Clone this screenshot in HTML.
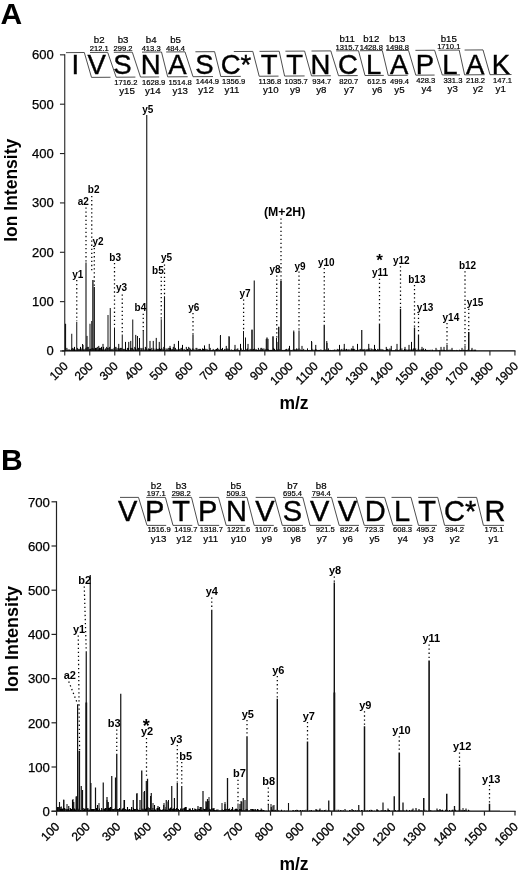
<!DOCTYPE html>
<html><head><meta charset="utf-8"><title>Figure</title>
<style>
html,body{margin:0;padding:0;background:#fff;width:520px;height:874px;overflow:hidden;}
svg{display:block;}
svg text{font-family:"Liberation Sans",Arial,Helvetica,sans-serif;fill:#000;}
</style></head><body>
<svg width="520" height="874" viewBox="0 0 520 874" style="filter:grayscale(1)">
<rect width="520" height="874" fill="#fff"/>
<text x="0.50" y="24.00" font-size="30" font-weight="bold">A</text>
<text x="1.00" y="469.50" font-size="30" font-weight="bold">B</text>
<line x1="64.75" y1="54.34" x2="64.75" y2="351.40" stroke="#222" stroke-width="1.1"/>
<line x1="61.75" y1="350.90" x2="515.50" y2="350.90" stroke="#000" stroke-width="1.15"/>
<line x1="59.95" y1="351.00" x2="64.75" y2="351.00" stroke="#222" stroke-width="1.1"/>
<text x="53.80" y="355.30" font-size="13" text-anchor="end" stroke="#000" stroke-width="0.25">0</text>
<line x1="59.95" y1="301.64" x2="64.75" y2="301.64" stroke="#222" stroke-width="1.1"/>
<text x="53.80" y="305.94" font-size="13" text-anchor="end" stroke="#000" stroke-width="0.25">100</text>
<line x1="59.95" y1="252.28" x2="64.75" y2="252.28" stroke="#222" stroke-width="1.1"/>
<text x="53.80" y="256.58" font-size="13" text-anchor="end" stroke="#000" stroke-width="0.25">200</text>
<line x1="59.95" y1="202.92" x2="64.75" y2="202.92" stroke="#222" stroke-width="1.1"/>
<text x="53.80" y="207.22" font-size="13" text-anchor="end" stroke="#000" stroke-width="0.25">300</text>
<line x1="59.95" y1="153.56" x2="64.75" y2="153.56" stroke="#222" stroke-width="1.1"/>
<text x="53.80" y="157.86" font-size="13" text-anchor="end" stroke="#000" stroke-width="0.25">400</text>
<line x1="59.95" y1="104.20" x2="64.75" y2="104.20" stroke="#222" stroke-width="1.1"/>
<text x="53.80" y="108.50" font-size="13" text-anchor="end" stroke="#000" stroke-width="0.25">500</text>
<line x1="59.95" y1="54.84" x2="64.75" y2="54.84" stroke="#222" stroke-width="1.1"/>
<text x="53.80" y="59.14" font-size="13" text-anchor="end" stroke="#000" stroke-width="0.25">600</text>
<line x1="64.75" y1="350.90" x2="64.75" y2="355.40" stroke="#222" stroke-width="1.1"/>
<text x="68.75" y="366.90" font-size="12.0" text-anchor="end" stroke="#000" stroke-width="0.3" transform="rotate(-45 68.75 366.90)">100</text>
<line x1="89.76" y1="350.90" x2="89.76" y2="355.40" stroke="#222" stroke-width="1.1"/>
<text x="93.76" y="366.90" font-size="12.0" text-anchor="end" stroke="#000" stroke-width="0.3" transform="rotate(-45 93.76 366.90)">200</text>
<line x1="114.77" y1="350.90" x2="114.77" y2="355.40" stroke="#222" stroke-width="1.1"/>
<text x="118.77" y="366.90" font-size="12.0" text-anchor="end" stroke="#000" stroke-width="0.3" transform="rotate(-45 118.77 366.90)">300</text>
<line x1="139.78" y1="350.90" x2="139.78" y2="355.40" stroke="#222" stroke-width="1.1"/>
<text x="143.78" y="366.90" font-size="12.0" text-anchor="end" stroke="#000" stroke-width="0.3" transform="rotate(-45 143.78 366.90)">400</text>
<line x1="164.79" y1="350.90" x2="164.79" y2="355.40" stroke="#222" stroke-width="1.1"/>
<text x="168.79" y="366.90" font-size="12.0" text-anchor="end" stroke="#000" stroke-width="0.3" transform="rotate(-45 168.79 366.90)">500</text>
<line x1="189.80" y1="350.90" x2="189.80" y2="355.40" stroke="#222" stroke-width="1.1"/>
<text x="193.80" y="366.90" font-size="12.0" text-anchor="end" stroke="#000" stroke-width="0.3" transform="rotate(-45 193.80 366.90)">600</text>
<line x1="214.81" y1="350.90" x2="214.81" y2="355.40" stroke="#222" stroke-width="1.1"/>
<text x="218.81" y="366.90" font-size="12.0" text-anchor="end" stroke="#000" stroke-width="0.3" transform="rotate(-45 218.81 366.90)">700</text>
<line x1="239.82" y1="350.90" x2="239.82" y2="355.40" stroke="#222" stroke-width="1.1"/>
<text x="243.82" y="366.90" font-size="12.0" text-anchor="end" stroke="#000" stroke-width="0.3" transform="rotate(-45 243.82 366.90)">800</text>
<line x1="264.83" y1="350.90" x2="264.83" y2="355.40" stroke="#222" stroke-width="1.1"/>
<text x="268.83" y="366.90" font-size="12.0" text-anchor="end" stroke="#000" stroke-width="0.3" transform="rotate(-45 268.83 366.90)">900</text>
<line x1="289.84" y1="350.90" x2="289.84" y2="355.40" stroke="#222" stroke-width="1.1"/>
<text x="293.84" y="366.90" font-size="12.0" text-anchor="end" stroke="#000" stroke-width="0.3" transform="rotate(-45 293.84 366.90)">1000</text>
<line x1="314.85" y1="350.90" x2="314.85" y2="355.40" stroke="#222" stroke-width="1.1"/>
<text x="318.85" y="366.90" font-size="12.0" text-anchor="end" stroke="#000" stroke-width="0.3" transform="rotate(-45 318.85 366.90)">1100</text>
<line x1="339.86" y1="350.90" x2="339.86" y2="355.40" stroke="#222" stroke-width="1.1"/>
<text x="343.86" y="366.90" font-size="12.0" text-anchor="end" stroke="#000" stroke-width="0.3" transform="rotate(-45 343.86 366.90)">1200</text>
<line x1="364.87" y1="350.90" x2="364.87" y2="355.40" stroke="#222" stroke-width="1.1"/>
<text x="368.87" y="366.90" font-size="12.0" text-anchor="end" stroke="#000" stroke-width="0.3" transform="rotate(-45 368.87 366.90)">1300</text>
<line x1="389.88" y1="350.90" x2="389.88" y2="355.40" stroke="#222" stroke-width="1.1"/>
<text x="393.88" y="366.90" font-size="12.0" text-anchor="end" stroke="#000" stroke-width="0.3" transform="rotate(-45 393.88 366.90)">1400</text>
<line x1="414.89" y1="350.90" x2="414.89" y2="355.40" stroke="#222" stroke-width="1.1"/>
<text x="418.89" y="366.90" font-size="12.0" text-anchor="end" stroke="#000" stroke-width="0.3" transform="rotate(-45 418.89 366.90)">1500</text>
<line x1="439.90" y1="350.90" x2="439.90" y2="355.40" stroke="#222" stroke-width="1.1"/>
<text x="443.90" y="366.90" font-size="12.0" text-anchor="end" stroke="#000" stroke-width="0.3" transform="rotate(-45 443.90 366.90)">1600</text>
<line x1="464.91" y1="350.90" x2="464.91" y2="355.40" stroke="#222" stroke-width="1.1"/>
<text x="468.91" y="366.90" font-size="12.0" text-anchor="end" stroke="#000" stroke-width="0.3" transform="rotate(-45 468.91 366.90)">1700</text>
<line x1="489.92" y1="350.90" x2="489.92" y2="355.40" stroke="#222" stroke-width="1.1"/>
<text x="493.92" y="366.90" font-size="12.0" text-anchor="end" stroke="#000" stroke-width="0.3" transform="rotate(-45 493.92 366.90)">1800</text>
<line x1="514.93" y1="350.90" x2="514.93" y2="355.40" stroke="#222" stroke-width="1.1"/>
<text x="518.93" y="366.90" font-size="12.0" text-anchor="end" stroke="#000" stroke-width="0.3" transform="rotate(-45 518.93 366.90)">1900</text>
<text x="294.00" y="408.60" font-size="17.5" font-weight="bold" text-anchor="middle">m/z</text>
<text font-size="17.5" font-weight="bold" text-anchor="middle" transform="translate(17.3 190.3) rotate(-90)">Ion Intensity</text>
<text x="71.58" y="73.70" font-size="27.5" stroke="#000" stroke-width="0.4">I</text>
<text x="87.43" y="73.70" font-size="27.5" stroke="#000" stroke-width="0.4">V</text>
<text x="113.14" y="73.70" font-size="27.5" stroke="#000" stroke-width="0.4">S</text>
<text x="140.86" y="73.70" font-size="27.5" stroke="#000" stroke-width="0.4">N</text>
<text x="168.13" y="73.70" font-size="27.5" stroke="#000" stroke-width="0.4">A</text>
<text x="195.14" y="73.70" font-size="27.5" stroke="#000" stroke-width="0.4">S</text>
<text x="220.70" y="73.70" font-size="27.5" stroke="#000" stroke-width="0.4">C*</text>
<text x="260.81" y="73.70" font-size="27.5" stroke="#000" stroke-width="0.4">T</text>
<text x="286.21" y="73.70" font-size="27.5" stroke="#000" stroke-width="0.4">T</text>
<text x="310.46" y="73.70" font-size="27.5" stroke="#000" stroke-width="0.4">N</text>
<text x="338.00" y="73.70" font-size="27.5" stroke="#000" stroke-width="0.4">C</text>
<text x="365.88" y="73.70" font-size="27.5" stroke="#000" stroke-width="0.4">L</text>
<text x="389.93" y="73.70" font-size="27.5" stroke="#000" stroke-width="0.4">A</text>
<text x="415.63" y="73.70" font-size="27.5" stroke="#000" stroke-width="0.4">P</text>
<text x="442.28" y="73.70" font-size="27.5" stroke="#000" stroke-width="0.4">L</text>
<text x="466.03" y="73.70" font-size="27.5" stroke="#000" stroke-width="0.4">A</text>
<text x="491.66" y="73.70" font-size="27.5" stroke="#000" stroke-width="0.4">K</text>
<path d="M66.00 52.63 L84.30 52.51 L91.50 77.39 L110.50 77.26" fill="none" stroke="#3a3a3a" stroke-width="0.9"/>
<path d="M90.00 52.47 L107.70 52.35 L116.20 77.22 L135.40 77.09" fill="none" stroke="#3a3a3a" stroke-width="0.9"/>
<path d="M113.80 52.32 L132.30 52.20 L140.50 77.06 L159.20 76.93" fill="none" stroke="#3a3a3a" stroke-width="0.9"/>
<path d="M142.00 52.13 L161.50 52.01 L167.70 76.87 L187.70 76.74" fill="none" stroke="#3a3a3a" stroke-width="0.9"/>
<path d="M166.20 51.97 L185.00 51.85 L193.00 76.70 L213.00 76.56" fill="none" stroke="#3a3a3a" stroke-width="0.9"/>
<path d="M195.40 51.78 L214.60 51.66 L220.80 76.51 L240.80 76.37" fill="none" stroke="#3a3a3a" stroke-width="0.9"/>
<path d="M233.80 51.54 L252.80 51.41 L259.20 76.25 L278.50 76.12" fill="none" stroke="#3a3a3a" stroke-width="0.9"/>
<path d="M259.50 51.37 L279.20 51.24 L284.60 76.08 L304.60 75.94" fill="none" stroke="#3a3a3a" stroke-width="0.9"/>
<path d="M285.40 51.20 L304.60 51.08 L311.50 75.89 L330.80 75.76" fill="none" stroke="#3a3a3a" stroke-width="0.9"/>
<path d="M311.50 51.03 L330.80 50.90 L338.50 75.71 L357.70 75.58" fill="none" stroke="#3a3a3a" stroke-width="0.9"/>
<path d="M336.20 50.87 L358.50 50.72 L365.00 75.53 L383.80 75.40" fill="none" stroke="#3a3a3a" stroke-width="0.9"/>
<path d="M360.00 50.72 L382.30 50.57 L388.20 75.37 L407.70 75.24" fill="none" stroke="#3a3a3a" stroke-width="0.9"/>
<path d="M386.20 50.54 L408.50 50.40 L415.80 75.18 L434.60 75.06" fill="none" stroke="#3a3a3a" stroke-width="0.9"/>
<path d="M415.40 50.35 L434.60 50.23 L442.30 75.00 L460.00 74.88" fill="none" stroke="#3a3a3a" stroke-width="0.9"/>
<path d="M438.50 50.20 L459.20 50.07 L464.60 74.85 L484.60 74.72" fill="none" stroke="#3a3a3a" stroke-width="0.9"/>
<path d="M464.60 50.04 L483.00 49.92 L490.00 74.68 L511.50 74.53" fill="none" stroke="#3a3a3a" stroke-width="0.9"/>
<text x="99.25" y="43.47" font-size="9.7" text-anchor="middle" stroke="#000" stroke-width="0.2">b2</text>
<text x="99.25" y="50.87" font-size="7.6" text-anchor="middle" stroke="#000" stroke-width="0.2">212.1</text>
<text x="123.05" y="43.36" font-size="9.7" text-anchor="middle" stroke="#000" stroke-width="0.2">b3</text>
<text x="123.05" y="50.76" font-size="7.6" text-anchor="middle" stroke="#000" stroke-width="0.2">299.2</text>
<text x="151.15" y="43.23" font-size="9.7" text-anchor="middle" stroke="#000" stroke-width="0.2">b4</text>
<text x="151.15" y="50.63" font-size="7.6" text-anchor="middle" stroke="#000" stroke-width="0.2">413.3</text>
<text x="175.60" y="43.12" font-size="9.7" text-anchor="middle" stroke="#000" stroke-width="0.2">b5</text>
<text x="175.60" y="50.52" font-size="7.6" text-anchor="middle" stroke="#000" stroke-width="0.2">484.4</text>
<text x="347.15" y="42.35" font-size="9.7" text-anchor="middle" stroke="#000" stroke-width="0.2">b11</text>
<text x="347.15" y="49.75" font-size="7.6" text-anchor="middle" stroke="#000" stroke-width="0.2">1315.7</text>
<text x="371.30" y="42.24" font-size="9.7" text-anchor="middle" stroke="#000" stroke-width="0.2">b12</text>
<text x="371.30" y="49.64" font-size="7.6" text-anchor="middle" stroke="#000" stroke-width="0.2">1428.8</text>
<text x="397.35" y="42.13" font-size="9.7" text-anchor="middle" stroke="#000" stroke-width="0.2">b13</text>
<text x="397.35" y="49.53" font-size="7.6" text-anchor="middle" stroke="#000" stroke-width="0.2">1498.8</text>
<text x="448.75" y="41.90" font-size="9.7" text-anchor="middle" stroke="#000" stroke-width="0.2">b15</text>
<text x="448.75" y="49.30" font-size="7.6" text-anchor="middle" stroke="#000" stroke-width="0.2">1710.1</text>
<text x="114.20" y="84.80" font-size="7.6" stroke="#000" stroke-width="0.2">1716.2</text>
<text x="127.00" y="93.74" font-size="9.7" text-anchor="middle" stroke="#000" stroke-width="0.2">y15</text>
<text x="142.00" y="84.68" font-size="7.6" stroke="#000" stroke-width="0.2">1628.9</text>
<text x="152.80" y="93.63" font-size="9.7" text-anchor="middle" stroke="#000" stroke-width="0.2">y14</text>
<text x="168.50" y="84.56" font-size="7.6" stroke="#000" stroke-width="0.2">1514.8</text>
<text x="180.20" y="93.50" font-size="9.7" text-anchor="middle" stroke="#000" stroke-width="0.2">y13</text>
<text x="195.80" y="84.43" font-size="7.6" stroke="#000" stroke-width="0.2">1444.9</text>
<text x="206.00" y="93.39" font-size="9.7" text-anchor="middle" stroke="#000" stroke-width="0.2">y12</text>
<text x="222.00" y="84.32" font-size="7.6" stroke="#000" stroke-width="0.2">1356.9</text>
<text x="232.00" y="93.27" font-size="9.7" text-anchor="middle" stroke="#000" stroke-width="0.2">y11</text>
<text x="258.50" y="84.15" font-size="7.6" stroke="#000" stroke-width="0.2">1136.8</text>
<text x="270.80" y="93.10" font-size="9.7" text-anchor="middle" stroke="#000" stroke-width="0.2">y10</text>
<text x="284.60" y="84.03" font-size="7.6" stroke="#000" stroke-width="0.2">1035.7</text>
<text x="295.20" y="92.99" font-size="9.7" text-anchor="middle" stroke="#000" stroke-width="0.2">y9</text>
<text x="312.30" y="83.91" font-size="7.6" stroke="#000" stroke-width="0.2">934.7</text>
<text x="321.30" y="92.87" font-size="9.7" text-anchor="middle" stroke="#000" stroke-width="0.2">y8</text>
<text x="339.20" y="83.79" font-size="7.6" stroke="#000" stroke-width="0.2">820.7</text>
<text x="349.20" y="92.74" font-size="9.7" text-anchor="middle" stroke="#000" stroke-width="0.2">y7</text>
<text x="367.20" y="83.66" font-size="7.6" stroke="#000" stroke-width="0.2">612.5</text>
<text x="377.30" y="92.62" font-size="9.7" text-anchor="middle" stroke="#000" stroke-width="0.2">y6</text>
<text x="390.00" y="83.56" font-size="7.6" stroke="#000" stroke-width="0.2">499.4</text>
<text x="399.40" y="92.52" font-size="9.7" text-anchor="middle" stroke="#000" stroke-width="0.2">y5</text>
<text x="416.20" y="83.44" font-size="7.6" stroke="#000" stroke-width="0.2">428.3</text>
<text x="426.50" y="92.40" font-size="9.7" text-anchor="middle" stroke="#000" stroke-width="0.2">y4</text>
<text x="443.40" y="83.32" font-size="7.6" stroke="#000" stroke-width="0.2">331.3</text>
<text x="452.70" y="92.28" font-size="9.7" text-anchor="middle" stroke="#000" stroke-width="0.2">y3</text>
<text x="466.00" y="83.22" font-size="7.6" stroke="#000" stroke-width="0.2">218.2</text>
<text x="478.00" y="92.16" font-size="9.7" text-anchor="middle" stroke="#000" stroke-width="0.2">y2</text>
<text x="493.00" y="83.10" font-size="7.6" stroke="#000" stroke-width="0.2">147.1</text>
<text x="500.70" y="92.06" font-size="9.7" text-anchor="middle" stroke="#000" stroke-width="0.2">y1</text>
<path d="M65.6 350.9v-3M66.9 350.9v-3M68.0 350.9v-1.5M69.2 350.9v-1.5M70.2 350.9v-1M71.4 350.9v-2M72.3 350.9v-3M73.3 350.9v-2M74.1 350.9v-3M75.0 350.9v-1.5M76.2 350.9v-1M77.3 350.9v-3M78.1 350.9v-2M79.0 350.9v-2M79.9 350.9v-2M81.0 350.9v-2.5M82.1 350.9v-2M82.9 350.9v-2M83.9 350.9v-1.5M85.0 350.9v-2M86.0 350.9v-3M87.2 350.9v-4M88.3 350.9v-4M89.3 350.9v-2M90.5 350.9v-2M91.3 350.9v-2.5M92.4 350.9v-3M93.6 350.9v-2.5M94.7 350.9v-1.5M95.5 350.9v-3M96.4 350.9v-3M97.3 350.9v-4M98.3 350.9v-1.5M99.5 350.9v-3M100.4 350.9v-3M101.5 350.9v-4M102.4 350.9v-1.5M103.6 350.9v-4M104.8 350.9v-1.5M105.6 350.9v-2.5M106.7 350.9v-4M107.7 350.9v-3M108.9 350.9v-3M109.7 350.9v-4M110.7 350.9v-1.5M111.8 350.9v-2M112.9 350.9v-2M114.1 350.9v-3M115.1 350.9v-4M116.0 350.9v-4M117.0 350.9v-2.5M118.2 350.9v-3M119.4 350.9v-2.5M120.6 350.9v-3M121.7 350.9v-3M123.0 350.9v-2M123.8 350.9v-2M124.8 350.9v-2M125.6 350.9v-2M126.5 350.9v-1M127.4 350.9v-3M128.5 350.9v-3M129.8 350.9v-1M130.8 350.9v-3M131.8 350.9v-3M132.6 350.9v-3M133.5 350.9v-1.5M134.8 350.9v-4M135.6 350.9v-3M136.7 350.9v-1.5M137.5 350.9v-2M138.6 350.9v-3M139.7 350.9v-1.5M140.9 350.9v-3M141.8 350.9v-2.5M143.1 350.9v-3M144.1 350.9v-1.5M145.4 350.9v-4M146.4 350.9v-2.5M147.2 350.9v-1.5M148.4 350.9v-2.5M149.5 350.9v-2M150.5 350.9v-2M151.8 350.9v-3M152.7 350.9v-1M153.8 350.9v-2.5M155.1 350.9v-1.5M156.3 350.9v-2.5M157.3 350.9v-2M158.3 350.9v-2M159.4 350.9v-3M160.5 350.9v-2M161.7 350.9v-3M162.9 350.9v-2M163.8 350.9v-4M164.8 350.9v-1M166.0 350.9v-2.5M167.1 350.9v-2M168.2 350.9v-3M169.3 350.9v-3M170.5 350.9v-3M171.4 350.9v-1.5M172.3 350.9v-2M173.3 350.9v-4M174.4 350.9v-1M175.4 350.9v-3M176.6 350.9v-1.5M177.8 350.9v-1.5M179.1 350.9v-2M180.1 350.9v-2M181.1 350.9v-3M182.0 350.9v-3M183.0 350.9v-1.5M184.2 350.9v-2M185.5 350.9v-1M186.3 350.9v-4M187.5 350.9v-2M188.7 350.9v-4M189.8 350.9v-3M190.7 350.9v-2M191.5 350.9v-1M192.7 350.9v-2.5M193.9 350.9v-2M195.0 350.9v-1M196.0 350.9v-3M196.9 350.9v-3M197.8 350.9v-1.5M198.8 350.9v-2M199.7 350.9v-2M200.6 350.9v-2M201.6 350.9v-1M202.5 350.9v-2.5M203.5 350.9v-2M204.6 350.9v-3M205.8 350.9v-2M207.0 350.9v-2M207.9 350.9v-1M209.0 350.9v-1M210.2 350.9v-3M211.1 350.9v-1M212.3 350.9v-1M213.2 350.9v-2M214.3 350.9v-1M215.4 350.9v-1.5M216.5 350.9v-2M217.6 350.9v-3M218.8 350.9v-2M219.6 350.9v-1M220.5 350.9v-3M221.4 350.9v-2M222.5 350.9v-3M223.7 350.9v-1M224.7 350.9v-2M226.0 350.9v-2M227.1 350.9v-2.5M228.0 350.9v-2M229.1 350.9v-2M230.1 350.9v-1M231.3 350.9v-1.5M232.6 350.9v-1M233.8 350.9v-1M234.8 350.9v-2M235.8 350.9v-1M236.9 350.9v-2M237.8 350.9v-2.5M238.7 350.9v-1M240.0 350.9v-1M241.2 350.9v-2.5M242.4 350.9v-1M243.3 350.9v-1M244.6 350.9v-1M245.8 350.9v-1M246.8 350.9v-2M247.6 350.9v-2.5M248.9 350.9v-1M250.0 350.9v-2M251.0 350.9v-2M251.9 350.9v-1.5M252.8 350.9v-1.5M253.6 350.9v-2M254.6 350.9v-2.5M255.4 350.9v-1.5M256.5 350.9v-1.5M257.5 350.9v-1M258.4 350.9v-3M259.3 350.9v-1M260.1 350.9v-1.5M260.9 350.9v-3M261.8 350.9v-3M262.7 350.9v-2M263.9 350.9v-2.5M265.1 350.9v-1.5M266.1 350.9v-2M267.4 350.9v-2M268.4 350.9v-1.5M269.3 350.9v-1M270.5 350.9v-1M271.5 350.9v-1M272.4 350.9v-1M273.6 350.9v-3M274.5 350.9v-2M275.7 350.9v-1M276.6 350.9v-1M277.7 350.9v-1.5M279.0 350.9v-2M280.2 350.9v-1.5M281.3 350.9v-1M282.4 350.9v-1M283.7 350.9v-1M284.6 350.9v-1M285.5 350.9v-1.5M286.6 350.9v-2M287.8 350.9v-1.5M288.8 350.9v-2.5M289.7 350.9v-1.5M290.9 350.9v-1M291.8 350.9v-0.8M293.1 350.9v-1.5M294.5 350.9v-1.5M295.6 350.9v-1.5M296.6 350.9v-2.5M297.8 350.9v-2M299.0 350.9v-2.5M300.3 350.9v-1.5M301.4 350.9v-1M302.7 350.9v-1M303.7 350.9v-2M305.0 350.9v-1M306.1 350.9v-1M307.5 350.9v-2.5M308.5 350.9v-0.8M309.7 350.9v-1M310.8 350.9v-0.8M311.7 350.9v-2.5M312.8 350.9v-1.5M314.1 350.9v-1M315.3 350.9v-2M316.3 350.9v-1.5M317.3 350.9v-1M318.4 350.9v-1M319.5 350.9v-1M320.9 350.9v-1.5M322.0 350.9v-0.8M323.3 350.9v-1M324.3 350.9v-1M325.2 350.9v-1.5M326.2 350.9v-1M327.3 350.9v-1M328.4 350.9v-2.5M329.3 350.9v-1M330.6 350.9v-1M331.7 350.9v-0.8M332.8 350.9v-1M333.8 350.9v-1M334.8 350.9v-1.5M336.1 350.9v-1M337.3 350.9v-2M338.6 350.9v-1.5M339.7 350.9v-1M341.0 350.9v-1.5M341.9 350.9v-2M343.2 350.9v-1M344.1 350.9v-2.5M345.3 350.9v-1.5M346.5 350.9v-2M347.8 350.9v-1.5M348.8 350.9v-1.5M350.0 350.9v-1.5M351.4 350.9v-2.5M352.3 350.9v-2M353.5 350.9v-2M354.7 350.9v-2M355.9 350.9v-0.8M356.8 350.9v-1M358.1 350.9v-0.8M359.1 350.9v-1.5M360.3 350.9v-2M361.2 350.9v-1.5M362.5 350.9v-1.5M363.5 350.9v-1.5M364.8 350.9v-2M366.2 350.9v-1.5M367.1 350.9v-1.5M368.0 350.9v-2M369.2 350.9v-2.5M370.1 350.9v-1M371.1 350.9v-2.5M372.1 350.9v-2M373.4 350.9v-1.5M374.5 350.9v-1.5M375.5 350.9v-2M376.5 350.9v-0.8M377.7 350.9v-2M378.7 350.9v-1.5M379.7 350.9v-1M380.9 350.9v-2M382.0 350.9v-1.5M382.9 350.9v-1.5M383.9 350.9v-1M385.2 350.9v-0.8M386.5 350.9v-2M387.6 350.9v-2M388.8 350.9v-1.5M389.9 350.9v-2.5M390.9 350.9v-1.5M391.9 350.9v-0.8M393.2 350.9v-0.8M394.3 350.9v-0.8M395.6 350.9v-1.5M397.0 350.9v-1.5M398.0 350.9v-1M398.9 350.9v-0.8M399.9 350.9v-1.5M400.9 350.9v-1M401.9 350.9v-2.5M403.1 350.9v-1M404.5 350.9v-2M405.6 350.9v-1.5M406.9 350.9v-1.5M408.0 350.9v-1M408.9 350.9v-1.5M410.1 350.9v-1.5M411.2 350.9v-1M412.3 350.9v-1.5M413.4 350.9v-2.5M414.4 350.9v-1M415.7 350.9v-2.5M416.8 350.9v-1M418.1 350.9v-2M419.1 350.9v-1M420.0 350.9v-1.5M421.4 350.9v-1.5M422.4 350.9v-1.5M423.6 350.9v-2.5M424.6 350.9v-0.8M425.5 350.9v-2M426.5 350.9v-1M427.6 350.9v-1M428.7 350.9v-1M429.7 350.9v-1M431.0 350.9v-1.2M432.5 350.9v-1.2M434.0 350.9v-0.8M435.5 350.9v-0.5M437.0 350.9v-1.2M438.3 350.9v-0.8M439.7 350.9v-1M441.0 350.9v-0.8M442.1 350.9v-1.2M443.3 350.9v-1M444.5 350.9v-1M445.7 350.9v-0.8M446.9 350.9v-1.2M447.9 350.9v-0.8M449.0 350.9v-1.2M450.3 350.9v-1.2M451.9 350.9v-1.2M453.1 350.9v-0.8M454.3 350.9v-0.8M455.5 350.9v-0.5M456.7 350.9v-1M457.8 350.9v-0.8M459.4 350.9v-1.2M460.6 350.9v-0.8M461.8 350.9v-1M463.3 350.9v-1.2M464.4 350.9v-1M465.5 350.9v-0.8M466.6 350.9v-0.8M467.8 350.9v-1.2M469.0 350.9v-1M470.6 350.9v-0.5M471.6 350.9v-1.2M473.1 350.9v-1.2M474.6 350.9v-1.2M475.6 350.9v-1.2M74.50 350.9v-4M80.50 350.9v-4M83.00 350.9v-6M87.00 350.9v-15M98.75 350.9v-5M103.00 350.9v-7M118.75 350.9v-7M125.50 350.9v-9M128.75 350.9v-9M130.75 350.9v-10M135.75 350.9v-16M137.50 350.9v-14M139.50 350.9v-12M150.00 350.9v-10M153.25 350.9v-10M156.25 350.9v-13M159.25 350.9v-9M170.00 350.9v-5M174.25 350.9v-7M178.50 350.9v-10M182.50 350.9v-6M204.50 350.9v-5.5M209.25 350.9v-7M220.40 350.9v-15M226.25 350.9v-5M229.20 350.9v-14M235.00 350.9v-6M240.50 350.9v-7M245.50 350.9v-12M248.00 350.9v-7M252.00 350.9v-21M266.25 350.9v-12M268.00 350.9v-12M273.00 350.9v-14M277.00 350.9v-9M278.75 350.9v-24M289.50 350.9v-5M293.75 350.9v-19M302.00 350.9v-5M311.75 350.9v-9M315.75 350.9v-6M327.00 350.9v-8M339.50 350.9v-6M344.25 350.9v-7M353.00 350.9v-5M357.50 350.9v-7M368.75 350.9v-7M374.50 350.9v-6M386.25 350.9v-4M391.25 350.9v-5M397.00 350.9v-7M405.00 350.9v-4M409.00 350.9v-6M411.50 350.9v-9M422.00 350.9v-4M436.00 350.9v-3M441.00 350.9v-4M444.00 350.9v-4M452.00 350.9v-3M462.00 350.9v-3M472.00 350.9v-3" stroke="#000" stroke-width="1" fill="none"/>
<line x1="65.50" y1="323.75" x2="65.50" y2="350.90" stroke="#111" stroke-width="1.2"/>
<line x1="71.75" y1="333.75" x2="71.75" y2="350.90" stroke="#111" stroke-width="1"/>
<line x1="76.75" y1="321.75" x2="76.75" y2="350.90" stroke="#111" stroke-width="1"/>
<line x1="82.50" y1="344.00" x2="82.50" y2="350.90" stroke="#111" stroke-width="1"/>
<line x1="86.00" y1="262.50" x2="86.00" y2="350.90" stroke="#111" stroke-width="1.1"/>
<line x1="90.00" y1="323.75" x2="90.00" y2="350.90" stroke="#111" stroke-width="1"/>
<line x1="91.75" y1="321.00" x2="91.75" y2="350.90" stroke="#111" stroke-width="1"/>
<line x1="92.90" y1="280.00" x2="92.90" y2="350.90" stroke="#111" stroke-width="1.3"/>
<line x1="94.30" y1="287.00" x2="94.30" y2="350.90" stroke="#111" stroke-width="1.2"/>
<line x1="108.00" y1="315.00" x2="108.00" y2="350.90" stroke="#111" stroke-width="1"/>
<line x1="110.25" y1="308.00" x2="110.25" y2="350.90" stroke="#111" stroke-width="1"/>
<line x1="114.50" y1="327.50" x2="114.50" y2="350.90" stroke="#111" stroke-width="1"/>
<line x1="122.25" y1="334.50" x2="122.25" y2="350.90" stroke="#111" stroke-width="1"/>
<line x1="132.75" y1="319.50" x2="132.75" y2="350.90" stroke="#111" stroke-width="1"/>
<line x1="137.50" y1="336.00" x2="137.50" y2="350.90" stroke="#111" stroke-width="1"/>
<line x1="139.50" y1="338.00" x2="139.50" y2="350.90" stroke="#111" stroke-width="1"/>
<line x1="143.25" y1="331.00" x2="143.25" y2="350.90" stroke="#111" stroke-width="1"/>
<line x1="146.75" y1="115.00" x2="146.75" y2="350.90" stroke="#111" stroke-width="1.1"/>
<line x1="161.25" y1="319.25" x2="161.25" y2="350.90" stroke="#111" stroke-width="1"/>
<line x1="164.50" y1="296.25" x2="164.50" y2="350.90" stroke="#111" stroke-width="1.1"/>
<line x1="193.00" y1="334.25" x2="193.00" y2="350.90" stroke="#111" stroke-width="1.2"/>
<line x1="220.50" y1="335.00" x2="220.50" y2="350.90" stroke="#111" stroke-width="1"/>
<line x1="229.00" y1="336.00" x2="229.00" y2="350.90" stroke="#111" stroke-width="1"/>
<line x1="243.50" y1="331.00" x2="243.50" y2="350.90" stroke="#111" stroke-width="1"/>
<line x1="245.50" y1="337.50" x2="245.50" y2="350.90" stroke="#111" stroke-width="1"/>
<line x1="252.00" y1="329.50" x2="252.00" y2="350.90" stroke="#111" stroke-width="1"/>
<line x1="254.25" y1="280.50" x2="254.25" y2="350.90" stroke="#111" stroke-width="1.1"/>
<line x1="267.00" y1="337.50" x2="267.00" y2="350.90" stroke="#111" stroke-width="1.3"/>
<line x1="273.00" y1="336.00" x2="273.00" y2="350.90" stroke="#111" stroke-width="1"/>
<line x1="276.50" y1="338.00" x2="276.50" y2="350.90" stroke="#111" stroke-width="1"/>
<line x1="278.75" y1="326.75" x2="278.75" y2="350.90" stroke="#111" stroke-width="1"/>
<line x1="281.00" y1="280.50" x2="281.00" y2="350.90" stroke="#111" stroke-width="1.6"/>
<line x1="293.75" y1="330.50" x2="293.75" y2="350.90" stroke="#111" stroke-width="1"/>
<line x1="299.00" y1="330.50" x2="299.00" y2="350.90" stroke="#111" stroke-width="1.1"/>
<line x1="311.50" y1="341.00" x2="311.50" y2="350.90" stroke="#111" stroke-width="1"/>
<line x1="324.25" y1="325.00" x2="324.25" y2="350.90" stroke="#111" stroke-width="1.3"/>
<line x1="326.75" y1="341.00" x2="326.75" y2="350.90" stroke="#111" stroke-width="1"/>
<line x1="361.75" y1="330.00" x2="361.75" y2="350.90" stroke="#111" stroke-width="1.2"/>
<line x1="379.50" y1="323.75" x2="379.50" y2="350.90" stroke="#111" stroke-width="1.3"/>
<line x1="400.50" y1="308.75" x2="400.50" y2="350.90" stroke="#111" stroke-width="1.3"/>
<line x1="414.50" y1="327.50" x2="414.50" y2="350.90" stroke="#111" stroke-width="1.3"/>
<line x1="418.50" y1="334.50" x2="418.50" y2="350.90" stroke="#111" stroke-width="1.2"/>
<line x1="447.00" y1="344.50" x2="447.00" y2="350.90" stroke="#111" stroke-width="1.2"/>
<line x1="465.00" y1="346.00" x2="465.00" y2="350.90" stroke="#111" stroke-width="1"/>
<line x1="468.75" y1="332.00" x2="468.75" y2="350.90" stroke="#111" stroke-width="1.5"/>
<text x="77.75" y="277.50" font-size="10.0" font-weight="bold" text-anchor="middle">y1</text>
<line x1="76.75" y1="280.00" x2="76.75" y2="321.00" stroke="#000" stroke-width="1.25" stroke-dasharray="1.3 2.75"/>
<text x="83.38" y="204.50" font-size="10.0" font-weight="bold" text-anchor="middle">a2</text>
<line x1="86.00" y1="207.50" x2="86.00" y2="262.00" stroke="#000" stroke-width="1.25" stroke-dasharray="1.3 2.75"/>
<text x="93.65" y="192.50" font-size="10.0" font-weight="bold" text-anchor="middle">b2</text>
<line x1="91.75" y1="196.00" x2="91.75" y2="271.00" stroke="#000" stroke-width="1.25" stroke-dasharray="1.3 2.75"/>
<text x="98.12" y="244.50" font-size="10.0" font-weight="bold" text-anchor="middle">y2</text>
<line x1="94.30" y1="248.00" x2="94.30" y2="287.00" stroke="#000" stroke-width="1.25" stroke-dasharray="1.3 2.75"/>
<text x="115.12" y="260.50" font-size="10.0" font-weight="bold" text-anchor="middle">b3</text>
<line x1="114.50" y1="263.00" x2="114.50" y2="327.00" stroke="#000" stroke-width="1.25" stroke-dasharray="1.3 2.75"/>
<text x="121.62" y="291.25" font-size="10.0" font-weight="bold" text-anchor="middle">y3</text>
<line x1="122.25" y1="294.50" x2="122.25" y2="334.00" stroke="#000" stroke-width="1.25" stroke-dasharray="1.3 2.75"/>
<text x="140.38" y="310.75" font-size="10.0" font-weight="bold" text-anchor="middle">b4</text>
<line x1="143.25" y1="313.75" x2="143.25" y2="331.00" stroke="#000" stroke-width="1.25" stroke-dasharray="1.3 2.75"/>
<text x="147.75" y="112.50" font-size="10.0" font-weight="bold" text-anchor="middle">y5</text>
<text x="157.88" y="274.25" font-size="10.0" font-weight="bold" text-anchor="middle">b5</text>
<line x1="161.25" y1="276.75" x2="161.25" y2="319.00" stroke="#000" stroke-width="1.25" stroke-dasharray="1.3 2.75"/>
<text x="166.62" y="261.25" font-size="10.0" font-weight="bold" text-anchor="middle">y5</text>
<line x1="164.50" y1="264.50" x2="164.50" y2="296.00" stroke="#000" stroke-width="1.25" stroke-dasharray="1.3 2.75"/>
<text x="193.75" y="310.50" font-size="10.0" font-weight="bold" text-anchor="middle">y6</text>
<line x1="193.00" y1="313.00" x2="193.00" y2="334.00" stroke="#000" stroke-width="1.25" stroke-dasharray="1.3 2.75"/>
<text x="245.00" y="297.00" font-size="10.0" font-weight="bold" text-anchor="middle">y7</text>
<line x1="243.60" y1="299.50" x2="243.60" y2="331.00" stroke="#000" stroke-width="1.25" stroke-dasharray="1.3 2.75"/>
<text x="275.00" y="273.00" font-size="10.0" font-weight="bold" text-anchor="middle">y8</text>
<line x1="276.75" y1="275.50" x2="276.75" y2="338.00" stroke="#000" stroke-width="1.25" stroke-dasharray="1.3 2.75"/>
<text x="300.00" y="269.50" font-size="10.0" font-weight="bold" text-anchor="middle">y9</text>
<line x1="299.00" y1="271.50" x2="299.00" y2="330.00" stroke="#000" stroke-width="1.25" stroke-dasharray="1.3 2.75"/>
<text x="326.25" y="265.50" font-size="10.0" font-weight="bold" text-anchor="middle">y10</text>
<line x1="324.25" y1="268.00" x2="324.25" y2="325.00" stroke="#000" stroke-width="1.25" stroke-dasharray="1.3 2.75"/>
<text x="380.00" y="276.25" font-size="10.0" font-weight="bold" text-anchor="middle">y11</text>
<line x1="379.50" y1="278.75" x2="379.50" y2="323.50" stroke="#000" stroke-width="1.25" stroke-dasharray="1.3 2.75"/>
<text x="401.25" y="263.75" font-size="10.0" font-weight="bold" text-anchor="middle">y12</text>
<line x1="400.50" y1="266.25" x2="400.50" y2="308.50" stroke="#000" stroke-width="1.25" stroke-dasharray="1.3 2.75"/>
<text x="416.88" y="282.50" font-size="10.0" font-weight="bold" text-anchor="middle">b13</text>
<line x1="414.50" y1="285.00" x2="414.50" y2="327.00" stroke="#000" stroke-width="1.25" stroke-dasharray="1.3 2.75"/>
<text x="425.00" y="310.75" font-size="10.0" font-weight="bold" text-anchor="middle">y13</text>
<line x1="418.50" y1="313.75" x2="418.50" y2="334.00" stroke="#000" stroke-width="1.25" stroke-dasharray="1.3 2.75"/>
<text x="450.88" y="320.50" font-size="10.0" font-weight="bold" text-anchor="middle">y14</text>
<line x1="447.00" y1="323.00" x2="447.00" y2="344.00" stroke="#000" stroke-width="1.25" stroke-dasharray="1.3 2.75"/>
<text x="467.50" y="268.75" font-size="10.0" font-weight="bold" text-anchor="middle">b12</text>
<line x1="465.00" y1="271.25" x2="465.00" y2="346.00" stroke="#000" stroke-width="1.25" stroke-dasharray="1.3 2.75"/>
<text x="475.00" y="306.25" font-size="10.0" font-weight="bold" text-anchor="middle">y15</text>
<line x1="468.75" y1="308.75" x2="468.75" y2="332.00" stroke="#000" stroke-width="1.25" stroke-dasharray="1.3 2.75"/>
<text x="284.60" y="216.30" font-size="12.3" font-weight="bold" text-anchor="middle">(M+2H)</text>
<line x1="281" y1="218.5" x2="281" y2="280" stroke="#000" stroke-width="1.25" stroke-dasharray="1.3 2.75"/>
<text x="379.50" y="266.20" font-size="17" font-weight="bold" text-anchor="middle">*</text>
<line x1="56.50" y1="501.30" x2="56.50" y2="811.60" stroke="#222" stroke-width="1.2"/>
<line x1="51.50" y1="811.25" x2="515.60" y2="811.25" stroke="#000" stroke-width="1.1"/>
<line x1="51.50" y1="811.20" x2="56.50" y2="811.20" stroke="#222" stroke-width="1.2"/>
<text x="49.90" y="815.90" font-size="13.2" text-anchor="end" stroke="#000" stroke-width="0.25">0</text>
<line x1="51.50" y1="767.00" x2="56.50" y2="767.00" stroke="#222" stroke-width="1.2"/>
<text x="49.90" y="771.70" font-size="13.2" text-anchor="end" stroke="#000" stroke-width="0.25">100</text>
<line x1="51.50" y1="722.80" x2="56.50" y2="722.80" stroke="#222" stroke-width="1.2"/>
<text x="49.90" y="727.50" font-size="13.2" text-anchor="end" stroke="#000" stroke-width="0.25">200</text>
<line x1="51.50" y1="678.60" x2="56.50" y2="678.60" stroke="#222" stroke-width="1.2"/>
<text x="49.90" y="683.30" font-size="13.2" text-anchor="end" stroke="#000" stroke-width="0.25">300</text>
<line x1="51.50" y1="634.40" x2="56.50" y2="634.40" stroke="#222" stroke-width="1.2"/>
<text x="49.90" y="639.10" font-size="13.2" text-anchor="end" stroke="#000" stroke-width="0.25">400</text>
<line x1="51.50" y1="590.20" x2="56.50" y2="590.20" stroke="#222" stroke-width="1.2"/>
<text x="49.90" y="594.90" font-size="13.2" text-anchor="end" stroke="#000" stroke-width="0.25">500</text>
<line x1="51.50" y1="546.00" x2="56.50" y2="546.00" stroke="#222" stroke-width="1.2"/>
<text x="49.90" y="550.70" font-size="13.2" text-anchor="end" stroke="#000" stroke-width="0.25">600</text>
<line x1="51.50" y1="501.80" x2="56.50" y2="501.80" stroke="#222" stroke-width="1.2"/>
<text x="49.90" y="506.50" font-size="13.2" text-anchor="end" stroke="#000" stroke-width="0.25">700</text>
<line x1="56.60" y1="811.10" x2="56.60" y2="815.60" stroke="#222" stroke-width="1.2"/>
<text x="60.30" y="827.40" font-size="12.2" text-anchor="end" stroke="#000" stroke-width="0.3" transform="rotate(-45 60.30 827.40)">100</text>
<line x1="87.16" y1="811.10" x2="87.16" y2="815.60" stroke="#222" stroke-width="1.2"/>
<text x="90.86" y="827.40" font-size="12.2" text-anchor="end" stroke="#000" stroke-width="0.3" transform="rotate(-45 90.86 827.40)">200</text>
<line x1="117.72" y1="811.10" x2="117.72" y2="815.60" stroke="#222" stroke-width="1.2"/>
<text x="121.42" y="827.40" font-size="12.2" text-anchor="end" stroke="#000" stroke-width="0.3" transform="rotate(-45 121.42 827.40)">300</text>
<line x1="148.28" y1="811.10" x2="148.28" y2="815.60" stroke="#222" stroke-width="1.2"/>
<text x="151.98" y="827.40" font-size="12.2" text-anchor="end" stroke="#000" stroke-width="0.3" transform="rotate(-45 151.98 827.40)">400</text>
<line x1="178.84" y1="811.10" x2="178.84" y2="815.60" stroke="#222" stroke-width="1.2"/>
<text x="182.54" y="827.40" font-size="12.2" text-anchor="end" stroke="#000" stroke-width="0.3" transform="rotate(-45 182.54 827.40)">500</text>
<line x1="209.40" y1="811.10" x2="209.40" y2="815.60" stroke="#222" stroke-width="1.2"/>
<text x="213.10" y="827.40" font-size="12.2" text-anchor="end" stroke="#000" stroke-width="0.3" transform="rotate(-45 213.10 827.40)">600</text>
<line x1="239.96" y1="811.10" x2="239.96" y2="815.60" stroke="#222" stroke-width="1.2"/>
<text x="243.66" y="827.40" font-size="12.2" text-anchor="end" stroke="#000" stroke-width="0.3" transform="rotate(-45 243.66 827.40)">700</text>
<line x1="270.52" y1="811.10" x2="270.52" y2="815.60" stroke="#222" stroke-width="1.2"/>
<text x="274.22" y="827.40" font-size="12.2" text-anchor="end" stroke="#000" stroke-width="0.3" transform="rotate(-45 274.22 827.40)">800</text>
<line x1="301.08" y1="811.10" x2="301.08" y2="815.60" stroke="#222" stroke-width="1.2"/>
<text x="304.78" y="827.40" font-size="12.2" text-anchor="end" stroke="#000" stroke-width="0.3" transform="rotate(-45 304.78 827.40)">900</text>
<line x1="331.64" y1="811.10" x2="331.64" y2="815.60" stroke="#222" stroke-width="1.2"/>
<text x="335.34" y="827.40" font-size="12.2" text-anchor="end" stroke="#000" stroke-width="0.3" transform="rotate(-45 335.34 827.40)">1000</text>
<line x1="362.20" y1="811.10" x2="362.20" y2="815.60" stroke="#222" stroke-width="1.2"/>
<text x="365.90" y="827.40" font-size="12.2" text-anchor="end" stroke="#000" stroke-width="0.3" transform="rotate(-45 365.90 827.40)">1100</text>
<line x1="392.76" y1="811.10" x2="392.76" y2="815.60" stroke="#222" stroke-width="1.2"/>
<text x="396.46" y="827.40" font-size="12.2" text-anchor="end" stroke="#000" stroke-width="0.3" transform="rotate(-45 396.46 827.40)">1200</text>
<line x1="423.32" y1="811.10" x2="423.32" y2="815.60" stroke="#222" stroke-width="1.2"/>
<text x="427.02" y="827.40" font-size="12.2" text-anchor="end" stroke="#000" stroke-width="0.3" transform="rotate(-45 427.02 827.40)">1300</text>
<line x1="453.88" y1="811.10" x2="453.88" y2="815.60" stroke="#222" stroke-width="1.2"/>
<text x="457.58" y="827.40" font-size="12.2" text-anchor="end" stroke="#000" stroke-width="0.3" transform="rotate(-45 457.58 827.40)">1400</text>
<line x1="484.44" y1="811.10" x2="484.44" y2="815.60" stroke="#222" stroke-width="1.2"/>
<text x="488.14" y="827.40" font-size="12.2" text-anchor="end" stroke="#000" stroke-width="0.3" transform="rotate(-45 488.14 827.40)">1500</text>
<line x1="515.00" y1="811.10" x2="515.00" y2="815.60" stroke="#222" stroke-width="1.2"/>
<text x="518.70" y="827.40" font-size="12.2" text-anchor="end" stroke="#000" stroke-width="0.3" transform="rotate(-45 518.70 827.40)">1600</text>
<text x="294.00" y="870.20" font-size="17.5" font-weight="bold" text-anchor="middle">m/z</text>
<text font-size="18" font-weight="bold" text-anchor="middle" transform="translate(17.5 638.9) rotate(-90)">Ion Intensity</text>
<text x="117.93" y="521.40" font-size="29" stroke="#000" stroke-width="0.4">V</text>
<text x="145.00" y="521.40" font-size="29" stroke="#000" stroke-width="0.4">P</text>
<text x="172.15" y="521.40" font-size="29" stroke="#000" stroke-width="0.4">T</text>
<text x="198.10" y="521.40" font-size="29" stroke="#000" stroke-width="0.4">P</text>
<text x="226.02" y="521.40" font-size="29" stroke="#000" stroke-width="0.4">N</text>
<text x="255.23" y="521.40" font-size="29" stroke="#000" stroke-width="0.4">V</text>
<text x="282.84" y="521.40" font-size="29" stroke="#000" stroke-width="0.4">S</text>
<text x="309.93" y="521.40" font-size="29" stroke="#000" stroke-width="0.4">V</text>
<text x="337.63" y="521.40" font-size="29" stroke="#000" stroke-width="0.4">V</text>
<text x="364.63" y="521.40" font-size="29" stroke="#000" stroke-width="0.4">D</text>
<text x="393.93" y="521.40" font-size="29" stroke="#000" stroke-width="0.4">L</text>
<text x="418.35" y="521.40" font-size="29" stroke="#000" stroke-width="0.4">T</text>
<text x="443.94" y="521.40" font-size="29" stroke="#000" stroke-width="0.4">C*</text>
<text x="484.61" y="521.40" font-size="29" stroke="#000" stroke-width="0.4">R</text>
<path d="M120.00 497.40 L138.50 497.40 L147.00 525.40 L166.20 525.40" fill="none" stroke="#3a3a3a" stroke-width="0.9"/>
<path d="M146.20 497.40 L165.40 497.40 L173.00 525.40 L192.30 525.40" fill="none" stroke="#3a3a3a" stroke-width="0.9"/>
<path d="M171.50 497.40 L191.50 497.40 L198.50 525.40 L219.20 525.40" fill="none" stroke="#3a3a3a" stroke-width="0.9"/>
<path d="M199.20 497.40 L218.50 497.40 L226.20 525.40 L245.40 525.40" fill="none" stroke="#3a3a3a" stroke-width="0.9"/>
<path d="M226.20 497.40 L247.00 497.40 L254.20 525.40 L273.80 525.40" fill="none" stroke="#3a3a3a" stroke-width="0.9"/>
<path d="M255.70 497.40 L274.60 497.40 L282.30 525.40 L303.00 525.40" fill="none" stroke="#3a3a3a" stroke-width="0.9"/>
<path d="M283.00 497.40 L302.80 497.40 L310.00 525.40 L330.80 525.40" fill="none" stroke="#3a3a3a" stroke-width="0.9"/>
<path d="M311.50 497.40 L331.50 497.40 L339.20 525.40 L359.00 525.40" fill="none" stroke="#3a3a3a" stroke-width="0.9"/>
<path d="M337.00 497.40 L356.20 497.40 L364.30 525.40 L384.60 525.40" fill="none" stroke="#3a3a3a" stroke-width="0.9"/>
<path d="M365.40 497.40 L384.60 497.40 L393.00 525.40 L412.30 525.40" fill="none" stroke="#3a3a3a" stroke-width="0.9"/>
<path d="M391.50 497.40 L411.00 497.40 L418.50 525.40 L437.00 525.40" fill="none" stroke="#3a3a3a" stroke-width="0.9"/>
<path d="M418.20 497.40 L437.70 497.40 L444.60 525.40 L464.60 525.40" fill="none" stroke="#3a3a3a" stroke-width="0.9"/>
<path d="M457.50 497.40 L476.60 497.40 L483.40 525.40 L504.00 525.40" fill="none" stroke="#3a3a3a" stroke-width="0.9"/>
<text x="156.20" y="488.60" font-size="9.7" text-anchor="middle" stroke="#000" stroke-width="0.2">b2</text>
<text x="156.20" y="495.70" font-size="7.6" text-anchor="middle" stroke="#000" stroke-width="0.2">197.1</text>
<text x="181.15" y="488.60" font-size="9.7" text-anchor="middle" stroke="#000" stroke-width="0.2">b3</text>
<text x="181.15" y="495.70" font-size="7.6" text-anchor="middle" stroke="#000" stroke-width="0.2">298.2</text>
<text x="235.95" y="488.60" font-size="9.7" text-anchor="middle" stroke="#000" stroke-width="0.2">b5</text>
<text x="235.95" y="495.70" font-size="7.6" text-anchor="middle" stroke="#000" stroke-width="0.2">509.3</text>
<text x="292.55" y="488.60" font-size="9.7" text-anchor="middle" stroke="#000" stroke-width="0.2">b7</text>
<text x="292.55" y="495.70" font-size="7.6" text-anchor="middle" stroke="#000" stroke-width="0.2">695.4</text>
<text x="321.25" y="488.60" font-size="9.7" text-anchor="middle" stroke="#000" stroke-width="0.2">b8</text>
<text x="321.25" y="495.70" font-size="7.6" text-anchor="middle" stroke="#000" stroke-width="0.2">794.4</text>
<text x="147.40" y="532.40" font-size="7.6" stroke="#000" stroke-width="0.2">1516.9</text>
<text x="158.50" y="541.60" font-size="9.7" text-anchor="middle" stroke="#000" stroke-width="0.2">y13</text>
<text x="174.20" y="532.40" font-size="7.6" stroke="#000" stroke-width="0.2">1419.7</text>
<text x="184.20" y="541.60" font-size="9.7" text-anchor="middle" stroke="#000" stroke-width="0.2">y12</text>
<text x="199.70" y="532.40" font-size="7.6" stroke="#000" stroke-width="0.2">1318.7</text>
<text x="210.60" y="541.60" font-size="9.7" text-anchor="middle" stroke="#000" stroke-width="0.2">y11</text>
<text x="227.00" y="532.40" font-size="7.6" stroke="#000" stroke-width="0.2">1221.6</text>
<text x="238.70" y="541.60" font-size="9.7" text-anchor="middle" stroke="#000" stroke-width="0.2">y10</text>
<text x="255.00" y="532.40" font-size="7.6" stroke="#000" stroke-width="0.2">1107.6</text>
<text x="266.90" y="541.60" font-size="9.7" text-anchor="middle" stroke="#000" stroke-width="0.2">y9</text>
<text x="282.80" y="532.40" font-size="7.6" stroke="#000" stroke-width="0.2">1008.5</text>
<text x="295.80" y="541.60" font-size="9.7" text-anchor="middle" stroke="#000" stroke-width="0.2">y8</text>
<text x="315.70" y="532.40" font-size="7.6" stroke="#000" stroke-width="0.2">921.5</text>
<text x="322.00" y="541.60" font-size="9.7" text-anchor="middle" stroke="#000" stroke-width="0.2">y7</text>
<text x="340.00" y="532.40" font-size="7.6" stroke="#000" stroke-width="0.2">822.4</text>
<text x="347.80" y="541.60" font-size="9.7" text-anchor="middle" stroke="#000" stroke-width="0.2">y6</text>
<text x="364.60" y="532.40" font-size="7.6" stroke="#000" stroke-width="0.2">723.3</text>
<text x="374.60" y="541.60" font-size="9.7" text-anchor="middle" stroke="#000" stroke-width="0.2">y5</text>
<text x="393.00" y="532.40" font-size="7.6" stroke="#000" stroke-width="0.2">608.3</text>
<text x="402.80" y="541.60" font-size="9.7" text-anchor="middle" stroke="#000" stroke-width="0.2">y4</text>
<text x="416.60" y="532.40" font-size="7.6" stroke="#000" stroke-width="0.2">495.2</text>
<text x="428.60" y="541.60" font-size="9.7" text-anchor="middle" stroke="#000" stroke-width="0.2">y3</text>
<text x="445.00" y="532.40" font-size="7.6" stroke="#000" stroke-width="0.2">394.2</text>
<text x="454.80" y="541.60" font-size="9.7" text-anchor="middle" stroke="#000" stroke-width="0.2">y2</text>
<text x="484.60" y="532.40" font-size="7.6" stroke="#000" stroke-width="0.2">175.1</text>
<text x="493.60" y="541.60" font-size="9.7" text-anchor="middle" stroke="#000" stroke-width="0.2">y1</text>
<path d="M57.6 811.1v-4M58.8 811.1v-4M59.9 811.1v-2M60.8 811.1v-4M61.9 811.1v-2M62.7 811.1v-2.5M63.6 811.1v-1M64.7 811.1v-3M66.0 811.1v-2M67.1 811.1v-1.5M67.9 811.1v-2M69.1 811.1v-1M70.3 811.1v-3M71.4 811.1v-2M72.4 811.1v-2.5M73.5 811.1v-1.5M74.5 811.1v-2.5M75.5 811.1v-1.5M76.6 811.1v-3M77.8 811.1v-2.5M78.6 811.1v-1.5M79.6 811.1v-2.5M80.6 811.1v-1M81.9 811.1v-1M82.8 811.1v-1M83.8 811.1v-3M84.8 811.1v-2M86.0 811.1v-2.5M87.0 811.1v-2.5M87.9 811.1v-3M89.1 811.1v-1.5M90.0 811.1v-1.5M90.8 811.1v-4M92.0 811.1v-2M93.1 811.1v-2M94.2 811.1v-2M95.4 811.1v-2M96.5 811.1v-3M97.3 811.1v-3M98.6 811.1v-1M99.5 811.1v-2.5M100.8 811.1v-1M101.7 811.1v-3M103.0 811.1v-1.5M103.9 811.1v-2M104.8 811.1v-2.5M105.6 811.1v-3M106.8 811.1v-3M107.6 811.1v-1.5M108.5 811.1v-2M109.3 811.1v-3M110.3 811.1v-4M111.2 811.1v-4M112.4 811.1v-2M113.6 811.1v-2M114.8 811.1v-2.5M116.0 811.1v-2M117.2 811.1v-2M118.3 811.1v-2M119.5 811.1v-3M120.7 811.1v-1.5M121.7 811.1v-1.5M122.6 811.1v-2.5M123.5 811.1v-3M124.4 811.1v-4M125.4 811.1v-2M126.6 811.1v-1.5M127.5 811.1v-4M128.6 811.1v-1.5M129.5 811.1v-2M130.7 811.1v-1.5M131.6 811.1v-4M132.6 811.1v-1M133.5 811.1v-3M134.5 811.1v-2M135.4 811.1v-2M136.6 811.1v-3M137.7 811.1v-2M138.8 811.1v-1M139.9 811.1v-3M141.0 811.1v-1M141.8 811.1v-1.5M142.9 811.1v-2.5M143.8 811.1v-1.5M144.7 811.1v-3M145.8 811.1v-2M147.0 811.1v-3M148.0 811.1v-4M149.3 811.1v-3M150.5 811.1v-1M151.8 811.1v-1M152.9 811.1v-3M153.9 811.1v-1M155.0 811.1v-1.5M155.8 811.1v-1.5M157.1 811.1v-3M158.3 811.1v-3M159.5 811.1v-4M160.6 811.1v-1.5M161.6 811.1v-1M162.6 811.1v-1.5M163.6 811.1v-2M164.9 811.1v-1.5M165.9 811.1v-4M166.9 811.1v-1M167.9 811.1v-2M169.0 811.1v-2M170.1 811.1v-3M171.2 811.1v-4M172.2 811.1v-2M173.2 811.1v-2.5M174.1 811.1v-3M175.3 811.1v-2M176.5 811.1v-3M177.5 811.1v-3M178.4 811.1v-2M179.4 811.1v-1M180.6 811.1v-2.5M181.8 811.1v-1.5M182.8 811.1v-2.5M184.1 811.1v-3M185.1 811.1v-4M186.2 811.1v-4M187.1 811.1v-1M188.1 811.1v-1M189.2 811.1v-2.5M190.3 811.1v-2.5M191.4 811.1v-1M192.6 811.1v-3M193.6 811.1v-1M194.8 811.1v-2.5M195.7 811.1v-2M196.9 811.1v-1.5M197.9 811.1v-3M199.2 811.1v-2M200.1 811.1v-4M201.0 811.1v-1M202.2 811.1v-1M203.1 811.1v-2.5M204.3 811.1v-2M205.3 811.1v-2M206.1 811.1v-3M207.0 811.1v-4M207.9 811.1v-1M208.9 811.1v-3M209.9 811.1v-2M210.7 811.1v-1.5M211.7 811.1v-3M212.9 811.1v-2.5M214.0 811.1v-3M214.9 811.1v-1M215.9 811.1v-0.8M216.8 811.1v-1.5M218.0 811.1v-1.5M219.2 811.1v-0.8M220.2 811.1v-0.8M221.3 811.1v-0.8M222.3 811.1v-1.5M223.5 811.1v-1M224.6 811.1v-2M226.0 811.1v-2M227.3 811.1v-2.5M228.4 811.1v-2M229.6 811.1v-2.5M230.6 811.1v-1M231.7 811.1v-2M232.7 811.1v-2.5M233.9 811.1v-1M235.1 811.1v-2M236.1 811.1v-2.5M237.2 811.1v-2M238.2 811.1v-1M239.6 811.1v-2M240.6 811.1v-2M241.6 811.1v-2M242.6 811.1v-0.8M243.8 811.1v-0.8M244.9 811.1v-0.8M246.1 811.1v-2M247.3 811.1v-2M248.2 811.1v-0.8M249.5 811.1v-0.8M250.8 811.1v-2M252.0 811.1v-2M253.0 811.1v-2M254.1 811.1v-1.5M255.3 811.1v-2M256.4 811.1v-0.8M257.4 811.1v-2M258.3 811.1v-1.5M259.3 811.1v-0.8M260.2 811.1v-1M261.2 811.1v-2.5M262.3 811.1v-1.3M263.5 811.1v-1M264.9 811.1v-1M266.5 811.1v-0.5M268.2 811.1v-1M269.4 811.1v-0.7M271.0 811.1v-1M272.0 811.1v-1.3M273.3 811.1v-1M274.8 811.1v-1M276.0 811.1v-1.3M277.4 811.1v-0.7M278.8 811.1v-1M280.3 811.1v-0.7M281.5 811.1v-1.3M283.0 811.1v-0.8M284.7 811.1v-0.8M286.2 811.1v-0.7M287.4 811.1v-0.7M289.1 811.1v-0.7M290.8 811.1v-0.7M292.4 811.1v-0.8M293.7 811.1v-1M295.4 811.1v-1M296.8 811.1v-1.3M297.9 811.1v-1M299.4 811.1v-0.5M300.5 811.1v-1M302.0 811.1v-0.8M303.1 811.1v-1M304.6 811.1v-0.8M306.0 811.1v-1.3M307.7 811.1v-0.5M309.1 811.1v-0.5M310.1 811.1v-1M311.6 811.1v-1M313.0 811.1v-0.7M314.1 811.1v-0.7M315.3 811.1v-0.7M317.1 811.1v-1.3M318.1 811.1v-0.5M319.2 811.1v-1.3M320.6 811.1v-0.5M321.9 811.1v-1M323.2 811.1v-0.8M324.6 811.1v-1M325.9 811.1v-1.3M327.4 811.1v-0.7M328.6 811.1v-1M329.9 811.1v-0.8M331.2 811.1v-0.7M332.7 811.1v-0.5M334.1 811.1v-0.5M335.3 811.1v-0.5M337.0 811.1v-1.3M338.7 811.1v-1.3M340.4 811.1v-1M341.9 811.1v-1M343.4 811.1v-0.8M345.0 811.1v-0.8M346.2 811.1v-0.5M347.8 811.1v-0.7M349.5 811.1v-1M350.6 811.1v-0.8M352.3 811.1v-1.3M353.6 811.1v-1M355.2 811.1v-1M356.4 811.1v-0.7M357.4 811.1v-0.8M358.7 811.1v-0.5M359.7 811.1v-0.8M361.5 811.1v-1M362.5 811.1v-0.8M364.3 811.1v-1.3M365.5 811.1v-0.7M367.0 811.1v-1M368.2 811.1v-0.5M369.5 811.1v-1M371.0 811.1v-1.3M372.1 811.1v-1M373.9 811.1v-0.5M375.0 811.1v-0.5M376.6 811.1v-0.8M377.9 811.1v-1M379.0 811.1v-0.7M380.5 811.1v-0.5M381.6 811.1v-0.8M382.8 811.1v-0.8M384.2 811.1v-1M385.6 811.1v-1M387.0 811.1v-0.5M388.5 811.1v-1.3M389.6 811.1v-1M391.1 811.1v-0.5M392.4 811.1v-0.7M393.7 811.1v-0.7M395.4 811.1v-1M396.9 811.1v-0.5M398.2 811.1v-1M399.6 811.1v-1M400.9 811.1v-0.8M402.2 811.1v-0.8M403.6 811.1v-0.8M405.0 811.1v-0.8M406.6 811.1v-1.3M407.8 811.1v-0.5M409.4 811.1v-1M410.5 811.1v-0.7M411.8 811.1v-1.3M413.1 811.1v-0.8M414.7 811.1v-0.5M416.2 811.1v-1.3M417.9 811.1v-0.5M419.5 811.1v-0.7M420.9 811.1v-1M422.1 811.1v-0.7M423.1 811.1v-0.5M424.9 811.1v-1.3M426.6 811.1v-0.7M428.4 811.1v-0.7M429.9 811.1v-0.5M430.9 811.1v-1M432.3 811.1v-0.7M434.0 811.1v-0.8M435.4 811.1v-0.5M436.7 811.1v-0.7M438.2 811.1v-1M439.7 811.1v-1.3M441.2 811.1v-1M442.5 811.1v-1.3M443.9 811.1v-0.7M445.6 811.1v-1.3M446.7 811.1v-1M447.8 811.1v-0.8M449.5 811.1v-1M451.1 811.1v-0.8M452.4 811.1v-1.3M453.9 811.1v-1.3M455.4 811.1v-1.3M456.6 811.1v-0.7M457.8 811.1v-0.7M459.2 811.1v-1.3M460.9 811.1v-1.3M461.9 811.1v-0.5M463.0 811.1v-0.8M464.3 811.1v-1M465.3 811.1v-0.7M466.8 811.1v-0.5M468.4 811.1v-1.3M469.5 811.1v-0.7M471.0 811.1v-0.5M473.0 811.1v-0.5M475.0 811.1v-0.5M477.0 811.1v-0.5M479.0 811.1v-0.5M481.0 811.1v-0.5M483.0 811.1v-0.5M485.0 811.1v-0.5M487.0 811.1v-0.5M489.0 811.1v-0.5M491.0 811.1v-0.5M493.0 811.1v-0.5M495.0 811.1v-0.5M497.0 811.1v-0.5M499.0 811.1v-0.5M59.50 811.1v-9M61.25 811.1v-4.5M63.75 811.1v-11M68.75 811.1v-5M72.50 811.1v-11M73.75 811.1v-9M76.25 811.1v-14M90.90 811.1v-28M97.50 811.1v-6M107.00 811.1v-14M108.25 811.1v-9M124.50 811.1v-11M133.25 811.1v-11M136.75 811.1v-17M140.00 811.1v-11M144.50 811.1v-20M146.30 811.1v-30M151.25 811.1v-18M154.50 811.1v-6M158.00 811.1v-5M163.75 811.1v-6M166.25 811.1v-11M168.00 811.1v-9.5M174.40 811.1v-13M198.00 811.1v-5M201.25 811.1v-4M206.25 811.1v-9M208.75 811.1v-10M225.00 811.1v-7M232.50 811.1v-4M240.00 811.1v-7M241.75 811.1v-9.5M271.25 811.1v-4M273.00 811.1v-5.5M316.00 811.1v-2M320.00 811.1v-2.5M345.00 811.1v-2M352.00 811.1v-2M377.00 811.1v-2M388.00 811.1v-2.5M413.00 811.1v-2.5M416.00 811.1v-3M419.00 811.1v-2M437.00 811.1v-2.5M440.00 811.1v-2M466.00 811.1v-2.5" stroke="#000" stroke-width="1.1" fill="none"/>
<line x1="59.50" y1="802.00" x2="59.50" y2="811.10" stroke="#111" stroke-width="1"/>
<line x1="63.75" y1="799.50" x2="63.75" y2="811.10" stroke="#111" stroke-width="1"/>
<line x1="67.00" y1="804.00" x2="67.00" y2="811.10" stroke="#111" stroke-width="1"/>
<line x1="73.00" y1="799.00" x2="73.00" y2="811.10" stroke="#111" stroke-width="1"/>
<line x1="76.25" y1="796.00" x2="76.25" y2="811.10" stroke="#111" stroke-width="1"/>
<line x1="77.60" y1="705.00" x2="77.60" y2="811.10" stroke="#111" stroke-width="1.2"/>
<line x1="79.30" y1="751.00" x2="79.30" y2="811.10" stroke="#111" stroke-width="1.6"/>
<line x1="81.25" y1="786.00" x2="81.25" y2="811.10" stroke="#111" stroke-width="1.2"/>
<line x1="82.50" y1="790.00" x2="82.50" y2="811.10" stroke="#111" stroke-width="1.2"/>
<line x1="86.25" y1="651.30" x2="86.25" y2="811.10" stroke="#111" stroke-width="1.2"/>
<line x1="86.30" y1="702.50" x2="86.30" y2="811.10" stroke="#111" stroke-width="1.8"/>
<line x1="90.25" y1="575.00" x2="90.25" y2="811.10" stroke="#111" stroke-width="1.2"/>
<line x1="95.50" y1="787.50" x2="95.50" y2="811.10" stroke="#111" stroke-width="1.2"/>
<line x1="99.00" y1="803.00" x2="99.00" y2="811.10" stroke="#111" stroke-width="1"/>
<line x1="103.25" y1="782.50" x2="103.25" y2="811.10" stroke="#111" stroke-width="1.2"/>
<line x1="107.00" y1="800.00" x2="107.00" y2="811.10" stroke="#111" stroke-width="1"/>
<line x1="111.75" y1="776.00" x2="111.75" y2="811.10" stroke="#111" stroke-width="1.2"/>
<line x1="115.50" y1="777.50" x2="115.50" y2="811.10" stroke="#111" stroke-width="1.2"/>
<line x1="116.75" y1="753.75" x2="116.75" y2="811.10" stroke="#111" stroke-width="1.3"/>
<line x1="120.75" y1="693.75" x2="120.75" y2="811.10" stroke="#111" stroke-width="1.2"/>
<line x1="124.00" y1="800.00" x2="124.00" y2="811.10" stroke="#111" stroke-width="1"/>
<line x1="137.00" y1="793.00" x2="137.00" y2="811.10" stroke="#111" stroke-width="1.2"/>
<line x1="141.75" y1="770.50" x2="141.75" y2="811.10" stroke="#111" stroke-width="1.3"/>
<line x1="144.00" y1="792.00" x2="144.00" y2="811.10" stroke="#111" stroke-width="1"/>
<line x1="147.50" y1="778.75" x2="147.50" y2="811.10" stroke="#111" stroke-width="1.3"/>
<line x1="150.50" y1="796.00" x2="150.50" y2="811.10" stroke="#111" stroke-width="1"/>
<line x1="153.00" y1="803.00" x2="153.00" y2="811.10" stroke="#111" stroke-width="1"/>
<line x1="164.00" y1="803.00" x2="164.00" y2="811.10" stroke="#111" stroke-width="1"/>
<line x1="168.50" y1="800.00" x2="168.50" y2="811.10" stroke="#111" stroke-width="1"/>
<line x1="171.75" y1="786.00" x2="171.75" y2="811.10" stroke="#111" stroke-width="1.2"/>
<line x1="177.30" y1="782.50" x2="177.30" y2="811.10" stroke="#111" stroke-width="1.3"/>
<line x1="181.75" y1="786.00" x2="181.75" y2="811.10" stroke="#111" stroke-width="1.2"/>
<line x1="203.00" y1="791.00" x2="203.00" y2="811.10" stroke="#111" stroke-width="1.2"/>
<line x1="206.00" y1="801.00" x2="206.00" y2="811.10" stroke="#111" stroke-width="1"/>
<line x1="207.50" y1="799.00" x2="207.50" y2="811.10" stroke="#111" stroke-width="1.2"/>
<line x1="209.00" y1="797.00" x2="209.00" y2="811.10" stroke="#111" stroke-width="1"/>
<line x1="211.75" y1="610.00" x2="211.75" y2="811.10" stroke="#111" stroke-width="1.3"/>
<line x1="222.00" y1="803.00" x2="222.00" y2="811.10" stroke="#111" stroke-width="1"/>
<line x1="225.00" y1="802.00" x2="225.00" y2="811.10" stroke="#111" stroke-width="1"/>
<line x1="227.50" y1="778.00" x2="227.50" y2="811.10" stroke="#111" stroke-width="1.3"/>
<line x1="238.00" y1="803.50" x2="238.00" y2="811.10" stroke="#111" stroke-width="1"/>
<line x1="241.00" y1="801.00" x2="241.00" y2="811.10" stroke="#111" stroke-width="1"/>
<line x1="243.25" y1="798.00" x2="243.25" y2="811.10" stroke="#111" stroke-width="1.2"/>
<line x1="245.00" y1="800.00" x2="245.00" y2="811.10" stroke="#111" stroke-width="1"/>
<line x1="247.00" y1="736.25" x2="247.00" y2="811.10" stroke="#111" stroke-width="1.4"/>
<line x1="268.30" y1="805.00" x2="268.30" y2="811.10" stroke="#111" stroke-width="1"/>
<line x1="271.00" y1="804.00" x2="271.00" y2="811.10" stroke="#111" stroke-width="1"/>
<line x1="274.00" y1="805.00" x2="274.00" y2="811.10" stroke="#111" stroke-width="1"/>
<line x1="277.30" y1="698.75" x2="277.30" y2="811.10" stroke="#111" stroke-width="1.4"/>
<line x1="288.50" y1="803.00" x2="288.50" y2="811.10" stroke="#111" stroke-width="1.1"/>
<line x1="307.50" y1="741.50" x2="307.50" y2="811.10" stroke="#111" stroke-width="1.5"/>
<line x1="328.75" y1="800.50" x2="328.75" y2="811.10" stroke="#111" stroke-width="1.3"/>
<line x1="334.30" y1="582.50" x2="334.30" y2="811.10" stroke="#111" stroke-width="1.4"/>
<line x1="334.40" y1="692.50" x2="334.40" y2="811.10" stroke="#111" stroke-width="1.8"/>
<line x1="358.75" y1="805.00" x2="358.75" y2="811.10" stroke="#111" stroke-width="1.2"/>
<line x1="364.50" y1="726.25" x2="364.50" y2="811.10" stroke="#111" stroke-width="1.5"/>
<line x1="383.00" y1="802.50" x2="383.00" y2="811.10" stroke="#111" stroke-width="1.2"/>
<line x1="394.25" y1="796.25" x2="394.25" y2="811.10" stroke="#111" stroke-width="1.4"/>
<line x1="399.25" y1="752.50" x2="399.25" y2="811.10" stroke="#111" stroke-width="1.6"/>
<line x1="403.00" y1="802.50" x2="403.00" y2="811.10" stroke="#111" stroke-width="1.3"/>
<line x1="423.75" y1="798.00" x2="423.75" y2="811.10" stroke="#111" stroke-width="1.5"/>
<line x1="429.10" y1="660.50" x2="429.10" y2="811.10" stroke="#111" stroke-width="1.6"/>
<line x1="446.75" y1="793.75" x2="446.75" y2="811.10" stroke="#111" stroke-width="1.5"/>
<line x1="454.50" y1="806.00" x2="454.50" y2="811.10" stroke="#111" stroke-width="1.3"/>
<line x1="459.50" y1="767.50" x2="459.50" y2="811.10" stroke="#111" stroke-width="1.6"/>
<line x1="463.00" y1="808.00" x2="463.00" y2="811.10" stroke="#111" stroke-width="1"/>
<line x1="489.50" y1="803.75" x2="489.50" y2="811.10" stroke="#111" stroke-width="1.5"/>
<text x="69.75" y="678.75" font-size="11.0" font-weight="bold" text-anchor="middle">a2</text>
<line x1="68.75" y1="681.50" x2="78.00" y2="705.00" stroke="#000" stroke-width="1.25" stroke-dasharray="1.3 2.75"/>
<text x="79.00" y="633.00" font-size="11.0" font-weight="bold" text-anchor="middle">y1</text>
<line x1="78.25" y1="635.50" x2="79.60" y2="751.00" stroke="#000" stroke-width="1.25" stroke-dasharray="1.3 2.75"/>
<text x="84.62" y="583.75" font-size="11.0" font-weight="bold" text-anchor="middle">b2</text>
<line x1="84.25" y1="586.50" x2="86.25" y2="651.00" stroke="#000" stroke-width="1.25" stroke-dasharray="1.3 2.75"/>
<text x="114.25" y="727.00" font-size="11.0" font-weight="bold" text-anchor="middle">b3</text>
<line x1="116.75" y1="729.50" x2="116.75" y2="753.00" stroke="#000" stroke-width="1.25" stroke-dasharray="1.3 2.75"/>
<text x="147.12" y="735.00" font-size="11.0" font-weight="bold" text-anchor="middle">y2</text>
<line x1="146.50" y1="738.00" x2="146.50" y2="778.00" stroke="#000" stroke-width="1.25" stroke-dasharray="1.3 2.75"/>
<text x="176.25" y="742.50" font-size="11.0" font-weight="bold" text-anchor="middle">y3</text>
<line x1="177.30" y1="745.00" x2="177.30" y2="782.00" stroke="#000" stroke-width="1.25" stroke-dasharray="1.3 2.75"/>
<text x="185.75" y="759.50" font-size="11.0" font-weight="bold" text-anchor="middle">b5</text>
<line x1="181.75" y1="762.00" x2="181.75" y2="786.00" stroke="#000" stroke-width="1.25" stroke-dasharray="1.3 2.75"/>
<text x="211.88" y="595.00" font-size="11.0" font-weight="bold" text-anchor="middle">y4</text>
<line x1="211.75" y1="597.50" x2="211.75" y2="610.00" stroke="#000" stroke-width="1.25" stroke-dasharray="1.3 2.75"/>
<text x="239.38" y="777.30" font-size="11.0" font-weight="bold" text-anchor="middle">b7</text>
<line x1="238.00" y1="779.70" x2="238.00" y2="803.00" stroke="#000" stroke-width="1.25" stroke-dasharray="1.3 2.75"/>
<text x="247.75" y="717.50" font-size="11.0" font-weight="bold" text-anchor="middle">y5</text>
<line x1="247.00" y1="720.00" x2="247.00" y2="736.00" stroke="#000" stroke-width="1.25" stroke-dasharray="1.3 2.75"/>
<text x="268.75" y="785.10" font-size="11.0" font-weight="bold" text-anchor="middle">b8</text>
<line x1="268.30" y1="787.50" x2="268.30" y2="805.00" stroke="#000" stroke-width="1.25" stroke-dasharray="1.3 2.75"/>
<text x="278.38" y="673.60" font-size="11.0" font-weight="bold" text-anchor="middle">y6</text>
<line x1="277.30" y1="676.00" x2="277.30" y2="698.50" stroke="#000" stroke-width="1.25" stroke-dasharray="1.3 2.75"/>
<text x="308.75" y="719.50" font-size="11.0" font-weight="bold" text-anchor="middle">y7</text>
<line x1="307.50" y1="722.00" x2="307.50" y2="741.00" stroke="#000" stroke-width="1.25" stroke-dasharray="1.3 2.75"/>
<text x="335.00" y="573.75" font-size="11.0" font-weight="bold" text-anchor="middle">y8</text>
<line x1="334.30" y1="576.50" x2="334.30" y2="582.00" stroke="#000" stroke-width="1.25" stroke-dasharray="1.3 2.75"/>
<text x="365.25" y="708.75" font-size="11.0" font-weight="bold" text-anchor="middle">y9</text>
<line x1="364.50" y1="711.30" x2="364.50" y2="726.00" stroke="#000" stroke-width="1.25" stroke-dasharray="1.3 2.75"/>
<text x="401.50" y="733.75" font-size="11.0" font-weight="bold" text-anchor="middle">y10</text>
<line x1="399.25" y1="736.30" x2="399.25" y2="752.00" stroke="#000" stroke-width="1.25" stroke-dasharray="1.3 2.75"/>
<text x="431.25" y="642.00" font-size="11.0" font-weight="bold" text-anchor="middle">y11</text>
<line x1="429.10" y1="644.50" x2="429.10" y2="660.00" stroke="#000" stroke-width="1.25" stroke-dasharray="1.3 2.75"/>
<text x="462.12" y="750.00" font-size="11.0" font-weight="bold" text-anchor="middle">y12</text>
<line x1="459.50" y1="752.50" x2="459.50" y2="767.00" stroke="#000" stroke-width="1.25" stroke-dasharray="1.3 2.75"/>
<text x="491.25" y="782.50" font-size="11.0" font-weight="bold" text-anchor="middle">y13</text>
<line x1="489.50" y1="785.00" x2="489.50" y2="803.50" stroke="#000" stroke-width="1.25" stroke-dasharray="1.3 2.75"/>
<text x="146.30" y="732.20" font-size="18" font-weight="bold" text-anchor="middle">*</text>
</svg>
</body></html>
